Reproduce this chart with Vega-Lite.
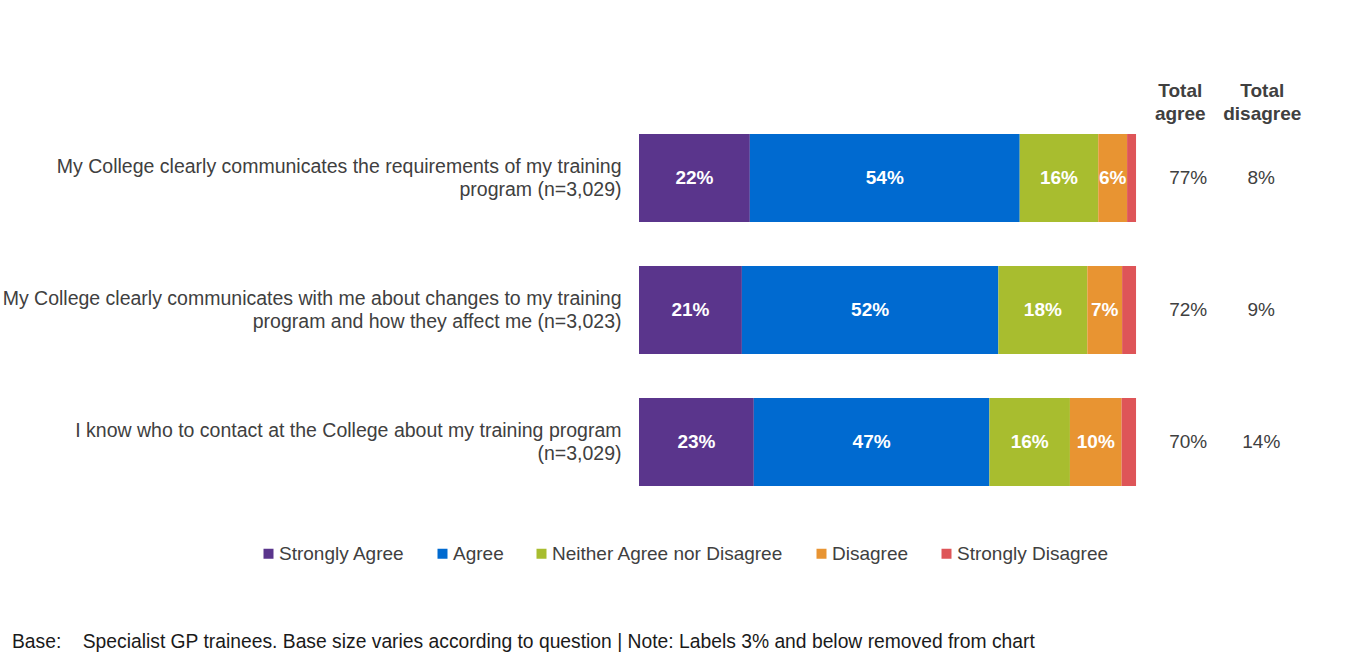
{
  "$schema": "https://vega.github.io/schema/vega-lite/v6.json",
  "width": 671,
  "height": 396,
  "autosize": {"type": "none"},
  "padding": {"left": 639, "top": 112, "right": 37, "bottom": 157},
  "background": "white",
  "config": {"font": "Liberation Sans", "view": {"stroke": null}},
  "title": {
    "text": "Base:\u00a0\u00a0\u00a0\u00a0Specialist GP trainees. Base size varies according to question | Note: Labels 3% and below removed from chart",
    "orient": "bottom",
    "anchor": "start",
    "frame": "group",
    "dx": -627,
    "offset": 69,
    "fontSize": 19.3,
    "fontWeight": "normal",
    "color": "#1a1a1a"
  },
  "datasets": {
    "resp": [
      {"q": "My College clearly communicates the requirements of my training|program (n=3,029)", "r": "Strongly Agree", "k": 1, "v": 0.223},
      {"q": "My College clearly communicates the requirements of my training|program (n=3,029)", "r": "Agree", "k": 2, "v": 0.543},
      {"q": "My College clearly communicates the requirements of my training|program (n=3,029)", "r": "Neither Agree nor Disagree", "k": 3, "v": 0.158},
      {"q": "My College clearly communicates the requirements of my training|program (n=3,029)", "r": "Disagree", "k": 4, "v": 0.058},
      {"q": "My College clearly communicates the requirements of my training|program (n=3,029)", "r": "Strongly Disagree", "k": 5, "v": 0.018},
      {"q": "My College clearly communicates with me about changes to my training|program and how they affect me (n=3,023)", "r": "Strongly Agree", "k": 1, "v": 0.207},
      {"q": "My College clearly communicates with me about changes to my training|program and how they affect me (n=3,023)", "r": "Agree", "k": 2, "v": 0.516},
      {"q": "My College clearly communicates with me about changes to my training|program and how they affect me (n=3,023)", "r": "Neither Agree nor Disagree", "k": 3, "v": 0.179},
      {"q": "My College clearly communicates with me about changes to my training|program and how they affect me (n=3,023)", "r": "Disagree", "k": 4, "v": 0.070},
      {"q": "My College clearly communicates with me about changes to my training|program and how they affect me (n=3,023)", "r": "Strongly Disagree", "k": 5, "v": 0.028},
      {"q": "I know who to contact at the College about my training program|(n=3,029)", "r": "Strongly Agree", "k": 1, "v": 0.231},
      {"q": "I know who to contact at the College about my training program|(n=3,029)", "r": "Agree", "k": 2, "v": 0.474},
      {"q": "I know who to contact at the College about my training program|(n=3,029)", "r": "Neither Agree nor Disagree", "k": 3, "v": 0.162},
      {"q": "I know who to contact at the College about my training program|(n=3,029)", "r": "Disagree", "k": 4, "v": 0.104},
      {"q": "I know who to contact at the College about my training program|(n=3,029)", "r": "Strongly Disagree", "k": 5, "v": 0.029}
    ],
    "totals": [
      {"q": "My College clearly communicates the requirements of my training|program (n=3,029)", "agree": 0.77, "disagree": 0.08},
      {"q": "My College clearly communicates with me about changes to my training|program and how they affect me (n=3,023)", "agree": 0.72, "disagree": 0.09},
      {"q": "I know who to contact at the College about my training program|(n=3,029)", "agree": 0.70, "disagree": 0.14}
    ]
  },
  "layer": [
    {
      "data": {"name": "resp"},
      "mark": {"type": "bar"},
      "encoding": {
        "x": {"field": "v", "type": "quantitative", "stack": "zero", "scale": {"domain": [0, 1.35], "nice": false, "zero": true}, "axis": null},
        "y": {
          "field": "q", "type": "nominal", "sort": null, "title": null,
          "scale": {"paddingInner": 0.333, "paddingOuter": 0.1667},
          "axis": {"domain": false, "ticks": false, "labelPadding": 18, "labelFontSize": 19.5, "labelColor": "#404040", "labelLimit": 700, "labelLineHeight": 23, "labelOffset": -11, "labelExpr": "split(datum.label, '|')"}
        },
        "color": {
          "field": "r", "type": "nominal",
          "scale": {"domain": ["Strongly Agree", "Agree", "Neither Agree nor Disagree", "Disagree", "Strongly Disagree"], "range": ["#5a358c", "#006ad0", "#a8bd2f", "#e89432", "#de5558"]},
          "legend": {"orient": "none", "legendX": -380, "legendY": 432, "direction": "horizontal", "title": null, "symbolType": "square", "symbolSize": 100, "symbolStrokeWidth": 0, "labelFontSize": 19, "labelColor": "#404040", "labelLimit": 400, "columnPadding": 28, "labelOffset": 1}
        },
        "order": {"field": "k", "type": "quantitative"}
      }
    },
    {
      "data": {"name": "resp"},
      "transform": [
        {"stack": "v", "groupby": ["q"], "sort": [{"field": "k"}], "as": ["v0", "v1"]},
        {"calculate": "(datum.v0 + datum.v1) / 2", "as": "mid"},
        {"filter": "datum.v > 0.03"}
      ],
      "mark": {"type": "text", "color": "white", "fontWeight": "bold", "fontSize": 19, "baseline": "middle"},
      "encoding": {
        "x": {"field": "mid", "type": "quantitative"},
        "y": {"field": "q", "type": "nominal", "sort": null},
        "text": {"field": "v", "type": "quantitative", "format": ".0%"}
      }
    },
    {
      "data": {"name": "totals"},
      "mark": {"type": "text", "color": "#404040", "fontSize": 19, "baseline": "middle"},
      "encoding": {
        "x": {"datum": 1.105},
        "y": {"field": "q", "type": "nominal", "sort": null},
        "text": {"field": "agree", "type": "quantitative", "format": ".0%"}
      }
    },
    {
      "data": {"name": "totals"},
      "mark": {"type": "text", "color": "#404040", "fontSize": 19, "baseline": "middle"},
      "encoding": {
        "x": {"datum": 1.252},
        "y": {"field": "q", "type": "nominal", "sort": null},
        "text": {"field": "disagree", "type": "quantitative", "format": ".0%"}
      }
    },
    {
      "data": {"values": [{}]},
      "mark": {"type": "text", "text": ["Total", "agree"], "color": "#404040", "fontSize": 19, "fontWeight": "bold", "baseline": "middle", "lineHeight": 23, "dy": -87},
      "encoding": {
        "x": {"datum": 1.089},
        "y": {"datum": "My College clearly communicates the requirements of my training|program (n=3,029)"}
      }
    },
    {
      "data": {"values": [{}]},
      "mark": {"type": "text", "text": ["Total", "disagree"], "color": "#404040", "fontSize": 19, "fontWeight": "bold", "baseline": "middle", "lineHeight": 23, "dy": -87},
      "encoding": {
        "x": {"datum": 1.254},
        "y": {"datum": "My College clearly communicates the requirements of my training|program (n=3,029)"}
      }
    }
  ]
}
